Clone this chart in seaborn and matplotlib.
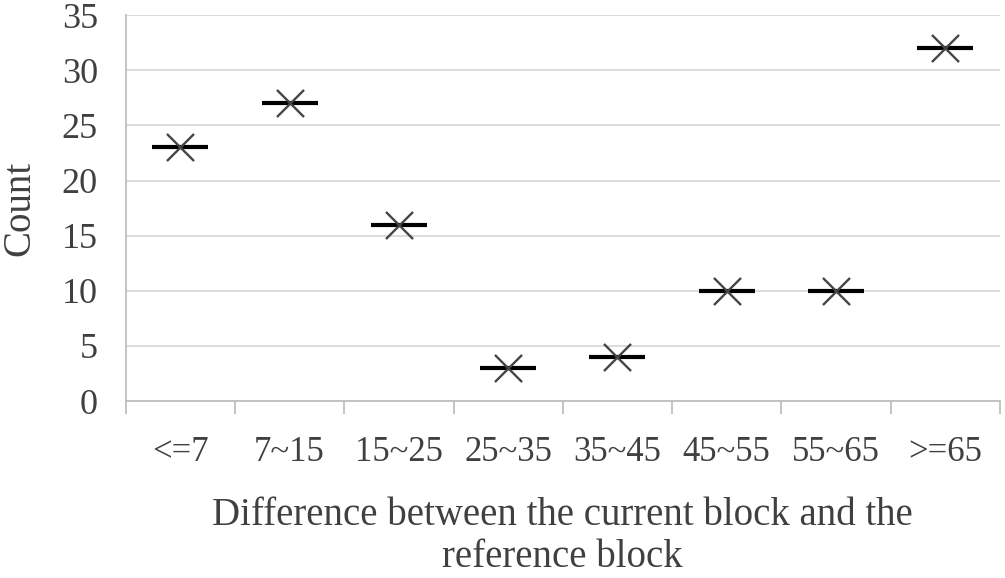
import numpy as np
import pandas as pd
import matplotlib.pyplot as plt
import seaborn as sns
from matplotlib.ticker import FixedLocator

# values
categories = ["<=7", "7~15", "15~25", "25~35", "35~45", "45~55", "55~65", ">=65"]
counts = [23, 27, 16, 3, 4, 10, 10, 32]

df = pd.DataFrame({"Range": categories, "Count": counts})

sns.set_theme(style="white")
plt.rcParams['font.family'] = ['Liberation Serif', 'DejaVu Serif']

fig = plt.figure(figsize=(10.05, 5.78), dpi=100)
ax = fig.add_axes([0.125, 0.306, 0.87, 0.668])

# grid first so markers sit on top
ax.set_axisbelow(True)
ax.yaxis.grid(True, color="#d9d9d9", linewidth=1.3)

# horizontal dash + cross, like the original spreadsheet markers
sns.scatterplot(data=df, x="Range", y="Count", marker="_", s=1600,
                color="black", linewidth=3, ax=ax, zorder=3)
sns.scatterplot(data=df, x="Range", y="Count", marker="x", s=380,
                color="#454545", linewidth=1.7, ax=ax, zorder=4)

ax.set_xlim(-0.5, len(categories) - 0.5)
ax.set_ylim(0, 35)
ax.set_yticks(np.arange(0, 36, 5))

# tick marks at the category boundaries, labels centred under each category
ax.xaxis.set_minor_locator(FixedLocator(np.arange(-0.5, len(categories), 1.0)))
ax.tick_params(axis="x", which="minor", length=9, width=1.3, color="#bfbfbf",
               direction="out", bottom=True)
ax.tick_params(axis="x", which="major", length=0, pad=25, labelsize=25,
               labelcolor="#404040")
ax.tick_params(axis="y", length=0, pad=20, labelsize=26, labelcolor="#404040")

for side in ["top", "right"]:
    ax.spines[side].set_visible(False)
for side in ["left", "bottom"]:
    ax.spines[side].set_color("#bfbfbf")
    ax.spines[side].set_linewidth(1.3)

ax.set_ylabel("Count", fontsize=28, color="#404040", labelpad=17)
ax.set_xlabel("Difference between the current block and the\nreference block",
              fontsize=28, color="#404040", labelpad=20, linespacing=1.2)

fig.savefig("out.png", dpi=100)
